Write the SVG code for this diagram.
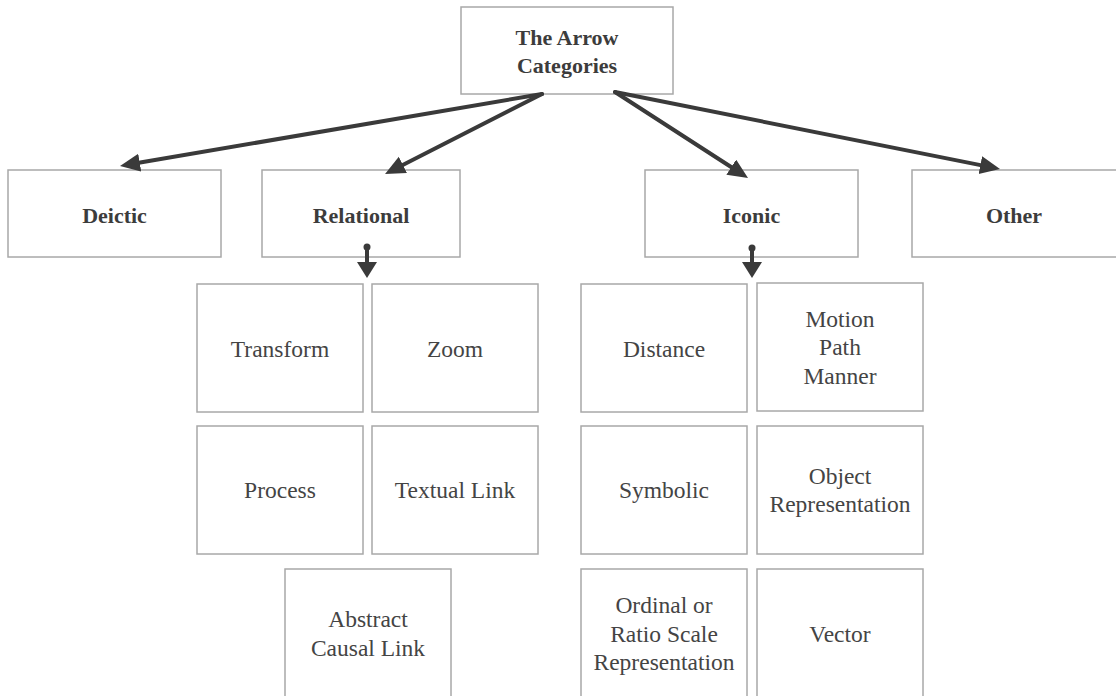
<svg xmlns="http://www.w3.org/2000/svg" width="1116" height="696" viewBox="0 0 1116 696">
<style>
.box{fill:#fff;stroke:#a8a8a8;stroke-width:1.5}
.t{font-family:"Liberation Serif",serif;font-size:23.5px;fill:#444;text-anchor:middle}
.b{font-family:"Liberation Serif",serif;font-size:22px;font-weight:bold;fill:#3c3c3c;text-anchor:middle}
.c{stroke:#3a3a3a;stroke-width:4;fill:none;stroke-linecap:round}
.h{fill:#3a3a3a}
</style>
<defs>
<marker id="ah" markerUnits="userSpaceOnUse" markerWidth="22" markerHeight="20" refX="4" refY="9" orient="auto">
<path d="M0,0 L20,9 L0,18 z" fill="#3a3a3a"/>
</marker>
</defs>
<rect width="1116" height="696" fill="#fff"/>
<g id="root"><rect class="box" x="461" y="7" width="212" height="87"/><text class="b" x="567" y="45">The Arrow</text><text class="b" x="567" y="73">Categories</text></g>
<g id="deictic"><rect class="box" x="8" y="170" width="213" height="87"/><text class="b" x="114.5" y="223">Deictic</text></g>
<g id="relational"><rect class="box" x="262" y="170" width="198" height="87"/><text class="b" x="361" y="223">Relational</text></g>
<g id="iconic"><rect class="box" x="645" y="170" width="213" height="87"/><text class="b" x="751.5" y="223">Iconic</text></g>
<g id="other"><rect class="box" x="912" y="170" width="210" height="87"/><text class="b" x="1014" y="223">Other</text></g>
<g id="transform"><rect class="box" x="197" y="284" width="166" height="128"/><text class="t" x="280" y="357">Transform</text></g>
<g id="zoom"><rect class="box" x="372" y="284" width="166" height="128"/><text class="t" x="455" y="357">Zoom</text></g>
<g id="process"><rect class="box" x="197" y="426" width="166" height="128"/><text class="t" x="280" y="498">Process</text></g>
<g id="textual-link"><rect class="box" x="372" y="426" width="166" height="128"/><text class="t" x="455" y="498">Textual Link</text></g>
<g id="abstract-causal-link"><rect class="box" x="285" y="569" width="166" height="140"/><text class="t" x="368" y="627">Abstract</text><text class="t" x="368" y="656">Causal Link</text></g>
<g id="distance"><rect class="box" x="581" y="284" width="166" height="128"/><text class="t" x="664" y="357">Distance</text></g>
<g id="motion"><rect class="box" x="757" y="283" width="166" height="128"/><text class="t" x="840" y="327">Motion</text><text class="t" x="840" y="355">Path</text><text class="t" x="840" y="384">Manner</text></g>
<g id="symbolic"><rect class="box" x="581" y="426" width="166" height="128"/><text class="t" x="664" y="498">Symbolic</text></g>
<g id="object-representation"><rect class="box" x="757" y="426" width="166" height="128"/><text class="t" x="840" y="484">Object</text><text class="t" x="840" y="512">Representation</text></g>
<g id="ordinal"><rect class="box" x="581" y="569" width="166" height="140"/><text class="t" x="664" y="613">Ordinal or</text><text class="t" x="664" y="642">Ratio Scale</text><text class="t" x="664" y="670">Representation</text></g>
<g id="vector"><rect class="box" x="757" y="569" width="166" height="140"/><text class="t" x="840" y="642">Vector</text></g>
<g id="connectors">
<line class="c" x1="542" y1="94" x2="135.8" y2="163.3" marker-end="url(#ah)"/>
<line class="c" x1="542" y1="94" x2="399.3" y2="166.7" marker-end="url(#ah)"/>
<line class="c" x1="615" y1="92" x2="734.6" y2="169.3" marker-end="url(#ah)"/>
<line class="c" x1="615" y1="92" x2="984.3" y2="165.9" marker-end="url(#ah)"/>
<circle class="h" cx="367" cy="247" r="3.5"/>
<line class="c" x1="367" y1="247" x2="367" y2="264"/>
<polygon class="h" points="357,262 377,262 367,278"/>
<circle class="h" cx="752" cy="248" r="3.5"/>
<line class="c" x1="752" y1="248" x2="752" y2="264"/>
<polygon class="h" points="742,262 762,262 752,278"/>
</g>
</svg>
